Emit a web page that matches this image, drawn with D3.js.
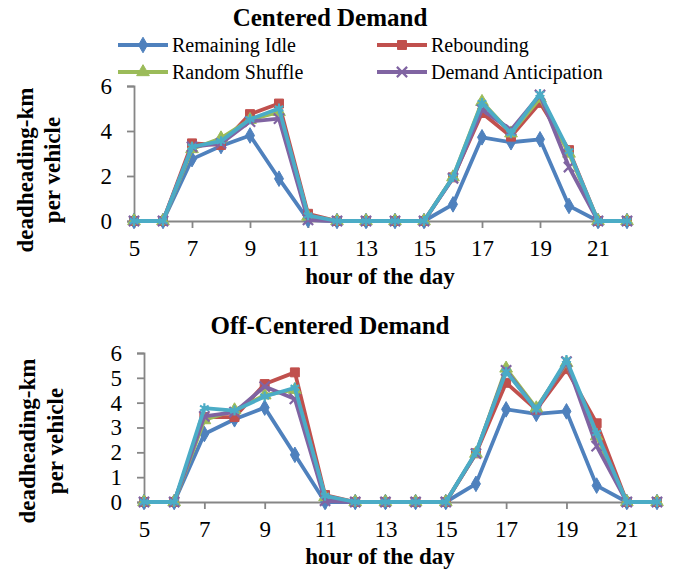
<!DOCTYPE html>
<html>
<head>
<meta charset="utf-8">
<script src="https://cdn.jsdelivr.net/npm/d3@7"></script>
<style>
  body { margin: 0; background: #fff; }
  svg text { font-family: "Liberation Serif", "Times New Roman", "DejaVu Serif", serif; }
</style>
</head>
<body>
<div class="chart"></div>
<script>
// data
const hours = [5, 6, 7, 8, 9, 10, 11, 12, 13, 14, 15, 16, 17, 18, 19, 20, 21, 22]
const xTickLabels = [5, 7, 9, 11, 13, 15, 17, 19, 21]
const seriesNames = ['Remaining Idle', 'Rebounding', 'Random Shuffle', 'Demand Anticipation', '']
const seriesColors = ['#4F81BD', '#C0504D', '#9BBB59', '#8064A2', '#4BACC6']

// Centered Demand
const centeredIdle    = [0, 0, 2.75, 3.33, 3.8, 1.88, 0.05, 0, 0, 0, 0, 0.74, 3.72, 3.5, 3.63, 0.67, 0, 0]
const centeredRebound = [0, 0, 3.45, 3.38, 4.75, 5.22, 0.32, 0, 0, 0, 0, 1.94, 4.8, 3.75, 5.25, 3.15, 0, 0]
const centeredShuffle = [0, 0, 3.2, 3.68, 4.5, 4.85, 0.2, 0, 0, 0, 0, 1.95, 5.3, 3.9, 5.45, 3.0, 0, 0]
const centeredAntic   = [0, 0, 3.3, 3.45, 4.42, 4.55, 0.05, 0, 0, 0, 0, 1.9, 4.95, 4.05, 5.6, 2.4, 0, 0]
const centeredOther   = [0, 0, 3.3, 3.55, 4.52, 5.0, 0.25, 0, 0, 0, 0, 1.95, 5.25, 3.9, 5.65, 3.1, 0, 0]

// Off-Centered Demand
const offIdle    = [0, 0, 2.74, 3.33, 3.8, 1.9, 0, 0, 0, 0, 0, 0.73, 3.73, 3.55, 3.65, 0.66, 0, 0]
const offRebound = [0, 0, 3.42, 3.42, 4.75, 5.22, 0.28, 0, 0, 0, 0, 1.96, 4.8, 3.72, 5.35, 3.17, 0, 0]
const offShuffle = [0, 0, 3.3, 3.7, 4.3, 4.52, 0.2, 0, 0, 0, 0, 1.95, 5.38, 3.78, 5.6, 2.65, 0, 0]
const offAntic   = [0, 0, 3.45, 3.62, 4.65, 4.15, 0.05, 0, 0, 0, 0, 1.95, 5.3, 3.72, 5.65, 2.25, 0, 0]
const offOther   = [0, 0, 3.78, 3.68, 4.25, 4.6, 0.25, 0, 0, 0, 0, 2.0, 5.25, 3.72, 5.72, 2.78, 0, 0]

const symbols = [d3.symbolDiamond, d3.symbolSquare, d3.symbolTriangle, d3.symbolX, d3.symbolAsterisk]
const filledSym = [true, true, true, false, false]

const svg = d3.select('.chart').append('svg')
    .attr('width', 673).attr('height', 570)

const panels = [
    {
        title: 'Centered Demand', titleY: 26,
        values: [centeredIdle, centeredRebound, centeredShuffle, centeredAntic, centeredOther],
        yTicks: [0, 2, 4, 6],
        x0: 134, x1: 627, yTop: 86, yBottom: 221,
        labelX: 380, labelY: 284, yLabelCenter: 170, yLabelX1: 33, yLabelX2: 60
    },
    {
        title: 'Off-Centered Demand', titleY: 334,
        values: [offIdle, offRebound, offShuffle, offAntic, offOther],
        yTicks: [0, 1, 2, 3, 4, 5, 6],
        x0: 144, x1: 657, yTop: 353, yBottom: 502,
        labelX: 380, labelY: 564, yLabelCenter: 441, yLabelX1: 35, yLabelX2: 63
    }
]

panels.forEach(p => drawPanel(p))
drawLegend()

function drawPanel(p) {
    const xScale = d3.scaleLinear().domain([5, 22]).range([p.x0, p.x1])
    const yScale = d3.scaleLinear().domain([0, 6]).range([p.yBottom, p.yTop])

    // title
    svg.append('text')
        .attr('x', 330).attr('y', p.titleY)
        .attr('text-anchor', 'middle')
        .style('font-size', '25px').style('font-weight', 'bold')
        .text(p.title)

    // y axis
    const yAxis = d3.axisLeft(yScale).tickValues(p.yTicks).tickFormat(d3.format('d'))
        .tickSize(7).tickPadding(15)
    const yG = svg.append('g').attr('transform', `translate(${p.x0},0)`).call(yAxis)
    yG.attr('font-family', null)
    yG.select('.domain').attr('stroke', '#868686').attr('stroke-width', 1.8)
    yG.selectAll('.tick line').attr('stroke', '#868686').attr('stroke-width', 1.8)
    yG.selectAll('text').style('font-size', '23px').attr('fill', '#000')

    // x axis
    const xAxis = d3.axisBottom(xScale).tickValues(xTickLabels).tickFormat(d3.format('d'))
        .tickSize(7).tickPadding(12).tickSizeOuter(0)
    const xG = svg.append('g').attr('transform', `translate(0,${p.yBottom})`).call(xAxis)
    xG.attr('font-family', null)
    xG.select('.domain').attr('stroke', '#868686').attr('stroke-width', 1.8)
    xG.selectAll('.tick line').attr('stroke', '#868686').attr('stroke-width', 1.8)
    xG.selectAll('text').style('font-size', '23px').attr('fill', '#000')

    // axis labels
    svg.append('text')
        .attr('x', p.labelX).attr('y', p.labelY)
        .attr('text-anchor', 'middle')
        .style('font-size', '23px').style('font-weight', 'bold')
        .text('hour of the day')

    const yl = svg.append('text')
        .attr('transform', `translate(${p.yLabelX1},${p.yLabelCenter}) rotate(-90)`)
        .attr('text-anchor', 'middle')
        .style('font-size', '23px').style('font-weight', 'bold')
    yl.append('tspan').attr('x', 0).attr('y', 0).text('deadheading-km')
    yl.append('tspan').attr('x', 0).attr('y', p.yLabelX2 - p.yLabelX1).text('per vehicle')

    // lines
    const lineGen = d3.line().x((d, i) => xScale(hours[i])).y(d => yScale(d))
    p.values.forEach((vals, s) => {
        const g = svg.append('g').attr('class', 'series')
        g.append('path')
            .attr('d', lineGen(vals))
            .attr('fill', 'none')
            .attr('stroke', seriesColors[s])
            .attr('stroke-width', 3.8)
            .attr('stroke-linejoin', 'round')
        g.selectAll('.marker').data(vals).enter().append('path')
            .attr('class', 'marker')
            .attr('transform', (d, i) => `translate(${xScale(hours[i])},${yScale(d)})`)
            .attr('d', d3.symbol().type(symbols[s]).size(s === 1 ? 80 : 70))
            .attr('fill', filledSym[s] ? seriesColors[s] : 'none')
            .attr('stroke', seriesColors[s])
            .attr('stroke-width', filledSym[s] ? 1 : 2.2)
    })
}

function drawLegend() {
    const items = [
        { s: 0, x: 118, y: 45 },
        { s: 1, x: 377, y: 45 },
        { s: 2, x: 118, y: 72 },
        { s: 3, x: 377, y: 72 }
    ]
    items.forEach(it => {
        const g = svg.append('g').attr('transform', `translate(${it.x},${it.y})`)
        g.append('line').attr('x1', 0).attr('x2', 50).attr('y1', 0).attr('y2', 0)
            .attr('stroke', seriesColors[it.s]).attr('stroke-width', 3.8)
        g.append('path')
            .attr('transform', 'translate(25,0)')
            .attr('d', d3.symbol().type(symbols[it.s]).size(it.s === 1 ? 80 : 70))
            .attr('fill', filledSym[it.s] ? seriesColors[it.s] : 'none')
            .attr('stroke', seriesColors[it.s])
            .attr('stroke-width', filledSym[it.s] ? 1 : 2.2)
        g.append('text').attr('x', 54).attr('y', 7)
            .style('font-size', '20px')
            .text(seriesNames[it.s])
    })
}
</script>
</body>
</html>
